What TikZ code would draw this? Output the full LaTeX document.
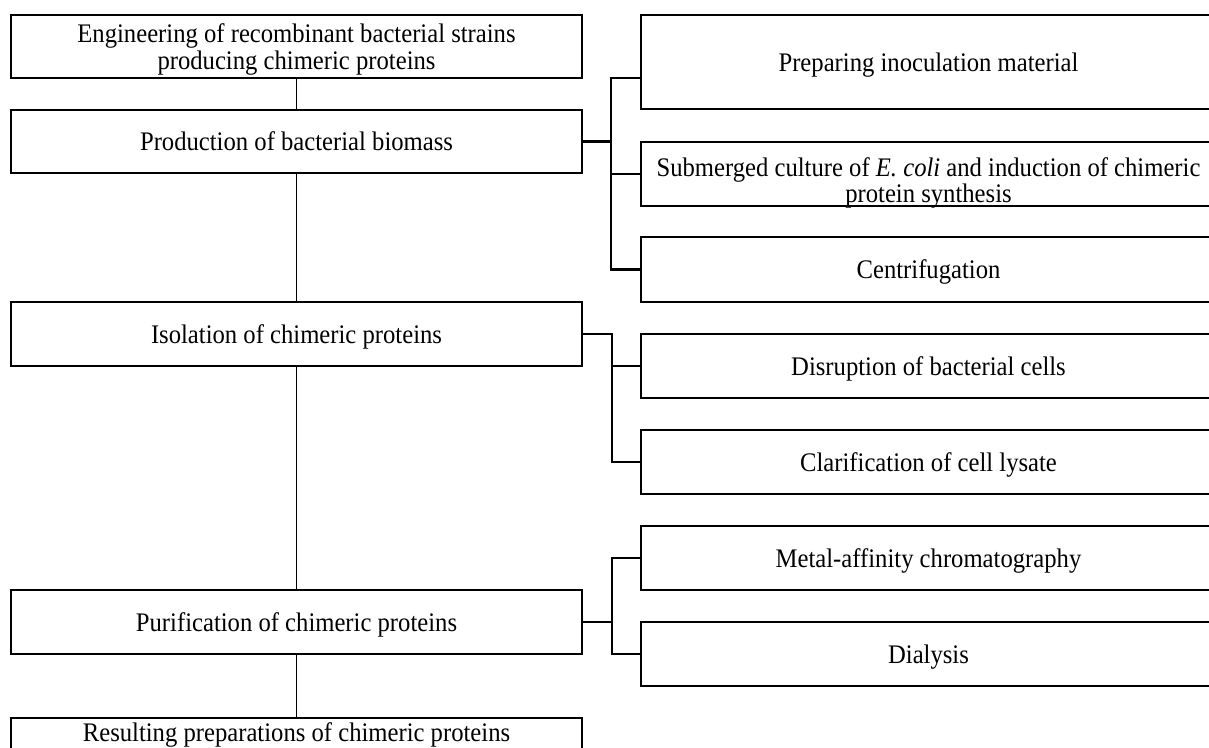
\documentclass[tikz,border=0pt]{standalone}
\usepackage{fontspec}
\setmainfont{Liberation Serif}[FakeStretch=0.92]
\newcommand\diagfont{\fontsize{26.8}{27}\selectfont}
\begin{document}
\begin{tikzpicture}[x=1pt,y=-1pt,
  boxline/.style={draw, line width=2.2pt, inner sep=0pt, align=center, font=\diagfont, text depth=0pt},
  lbox/.style={boxline, minimum width=571pt},
  rbox/.style={boxline, minimum width=575pt},
  txt/.style={inner sep=0pt, align=center, font=\diagfont},
  conn/.style={draw, line width=2.2pt},
  vconn/.style={draw, line width=1.5pt}]
\useasboundingbox (0,0) rectangle (1209,747);
\clip (0,0) rectangle (1209,747);
% left column
\node[lbox, minimum height=63pt] (eng) at (296.5,46.5) {Engineering of recombinant bacterial strains\\producing chimeric proteins};
\node[lbox, minimum height=63pt] (prod) at (296.5,141.5) {Production of bacterial biomass};
\node[lbox, minimum height=64pt] (iso) at (296.5,334) {Isolation of chimeric proteins};
\node[lbox, minimum height=64pt] (pur) at (296.5,622) {Purification of chimeric proteins};
\node[lbox, minimum height=64pt] (res) at (296.5,750) {};
\node[txt, anchor=base] (resT) at (296.5,741) {Resulting preparations of chimeric proteins};
% right column
\node[rbox, minimum height=94pt] (prep) at (928.5,62) {Preparing inoculation material};
\node[rbox, minimum height=64pt] (sub) at (928.5,174) {};
\node[txt, font=\fontsize{26.8}{22}\selectfont] (subT) at (928.5,183) {Submerged culture of \textit{E. coli} and induction of chimeric\\protein synthesis};
\node[rbox, minimum height=65pt] (cent) at (928.5,269.5) {Centrifugation};
\node[rbox, minimum height=64pt] (dis) at (928.5,366) {Disruption of bacterial cells};
\node[rbox, minimum height=64pt] (clar) at (928.5,462) {Clarification of cell lysate};
\node[rbox, minimum height=64pt] (met) at (928.5,558) {Metal-affinity chromatography};
\node[rbox, minimum height=64pt] (dia) at (928.5,654) {Dialysis};
% main chain
\draw[vconn] (eng.south) -- (prod.north);
\draw[vconn] (prod.south) -- (iso.north);
\draw[vconn] (iso.south) -- (pur.north);
\draw[vconn] (pur.south) -- (res.north);
% production bracket
\coordinate (pj) at (611,141.5);
\coordinate (pt) at (611,78);
\draw[conn] (prod.east) -- (pj);
\draw[conn] (prep.west |- pt) -- (pt) -- (pt |- cent.west) -- (cent.west);
\draw[conn] (pt |- sub.west) -- (sub.west);
% isolation bracket
\draw[conn] (iso.east) -- ++(29,0) coordinate (ij) -- (ij |- clar.west) -- (clar.west);
\draw[conn] (ij |- dis.west) -- (dis.west);
% purification bracket
\draw[conn] (pur.east) -- ++(29,0) coordinate (uj);
\draw[conn] (met.west) -- (met.west -| uj) -- (dia.west -| uj) -- (dia.west);
\end{tikzpicture}
\end{document}
